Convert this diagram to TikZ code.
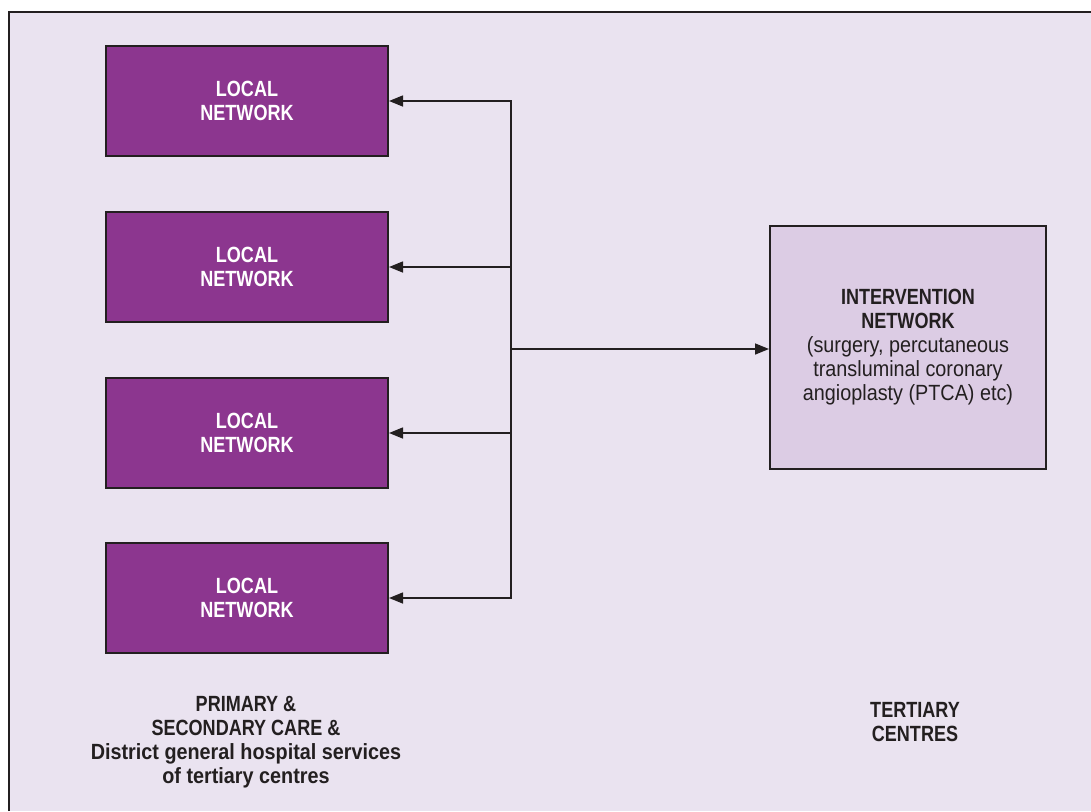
\documentclass[tikz,border=0pt]{standalone}
\usepackage{fontspec}
\setmainfont{Liberation Sans}[FakeStretch=0.82]
\newfontfamily\lowerfont{Liberation Sans}[FakeStretch=0.9]
\usetikzlibrary{positioning,arrows.meta}

\definecolor{panelbg}{HTML}{EAE3F0}
\definecolor{localpurple}{HTML}{8C368F}
\definecolor{tertiarybg}{HTML}{DCCCE4}
\definecolor{inkdark}{HTML}{231F20}

\begin{document}
\begin{tikzpicture}[x=1pt,y=-1pt,
	every node/.style={align=center,font=\fontsize{22}{24}\selectfont\bfseries,text=inkdark},
	localbox/.style={draw=inkdark,line width=2pt,fill=localpurple,text=white,minimum width=282pt,minimum height=110pt},
	link/.style={draw=inkdark,line width=1.5pt,-{Triangle[length=14pt,width=11pt]}}]

\useasboundingbox (0,0) rectangle (1091,811);
\fill[panelbg] (9,12) rectangle (1091,811);
\draw[inkdark,line width=1.5pt] (9,811) -- (9,12) -- (1091,12);

\foreach \n/\y in {1/101,2/267,3/433,4/598}{
	\node[localbox](l\n) at (247,\y) {LOCAL\\NETWORK};
}

\node[draw=inkdark,line width=2pt,fill=tertiarybg,minimum width=276pt,minimum height=243pt](tc) at (908,347.5)
	{INTERVENTION\\NETWORK\\\lowerfont\mdseries (surgery, percutaneous\\\lowerfont\mdseries transluminal coronary\\\lowerfont\mdseries angioplasty (PTCA) etc)};

\coordinate(hub) at (511,349);

\draw[link](hub)--(hub-|tc.west);
\foreach \n in {1,2,3,4}{
	\draw[link](hub)|-(l\n.east);
}

\node(prim) at (246,742) {PRIMARY \&\\SECONDARY CARE \&\\\lowerfont District general hospital services\\\lowerfont of tertiary centres};
\node(tert) at (915,722) {TERTIARY\\CENTRES};

\end{tikzpicture}
\end{document}
